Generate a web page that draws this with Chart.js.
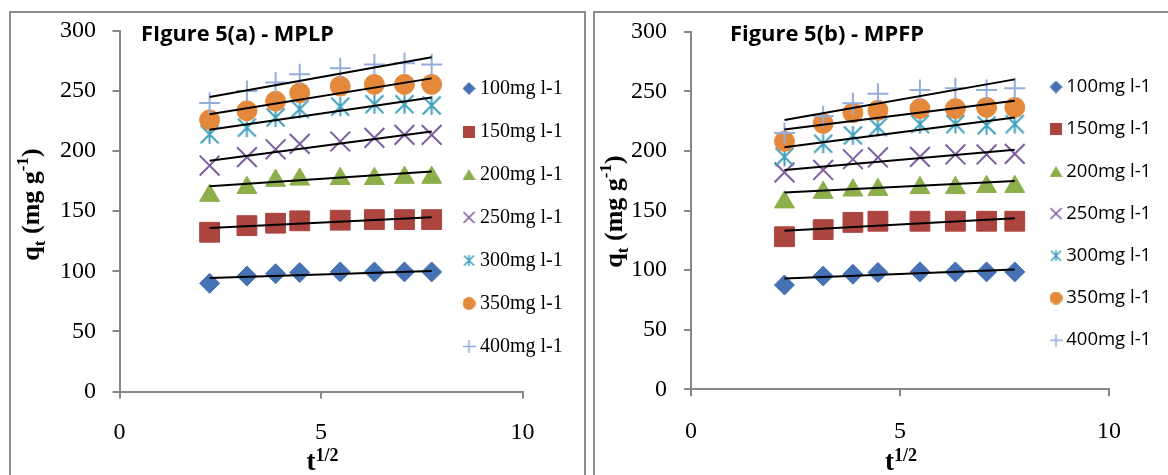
<!DOCTYPE html>
<html><head><meta charset="utf-8">
<script src="https://cdn.jsdelivr.net/npm/chart.js@4.4.1/dist/chart.umd.min.js"></script>
<style>
html,body{margin:0;padding:0;background:#fff;width:1168px;height:475px;overflow:hidden;position:relative}
.frame{position:absolute;border:2px solid #8c8c8c;box-sizing:border-box}
canvas{position:absolute;top:0}
</style></head><body>
<div class="frame" style="left:9px;top:11px;width:577px;height:520px"></div>
<div class="frame" style="left:593px;top:11px;width:600px;height:520px"></div>
<canvas id="c1" width="590" height="475" style="left:0"></canvas>
<canvas id="c2" width="578" height="475" style="left:590px"></canvas>
<script>
// ---------- data ----------
const sqrtTime = [2.236, 3.162, 3.873, 4.472, 5.477, 6.325, 7.071, 7.746];
const fitX = [2.236, 7.746];
const concLabels = ['100mg l-1', '150mg l-1', '200mg l-1', '250mg l-1', '300mg l-1', '350mg l-1', '400mg l-1'];
const xTickValues = [0, 5, 10];
const yTickValues = [0, 50, 100, 150, 200, 250, 300];

// Figure 5(a) - MPLP
const a100 = [90, 96, 98, 99, 99.5, 99.5, 99.5, 99.5];
const a150 = [132.5, 138, 140, 142, 142.5, 143, 143, 143];
const a200 = [163, 169.5, 175.5, 176.5, 177, 177, 178, 178];
const a250 = [188, 195, 201.5, 206, 208, 211, 213.5, 213.5];
const a300 = [214, 219.5, 228, 235, 237, 239, 239, 238];
const a350 = [226, 233.5, 241.5, 248.5, 254, 255.5, 255.5, 255.5];
const a400 = [240, 250, 257, 264, 269, 272, 273, 272];
const aFit100 = [94.5, 100.2];
const aFit150 = [136, 145];
const aFit200 = [170.7, 183];
const aFit250 = [192, 216.3];
const aFit300 = [217.7, 244.5];
const aFit350 = [230.7, 260.5];
const aFit400 = [245, 278];

// Figure 5(b) - MPFP
const b100 = [87.5, 95, 96.5, 98, 98.5, 98.5, 98.5, 98.5];
const b150 = [128, 134, 140, 141, 141, 141, 141, 141];
const b200 = [157, 165, 167, 167.5, 169, 169, 170, 170];
const b250 = [182, 184, 193, 194.5, 195, 197, 197, 197.5];
const b300 = [195, 206, 213, 220, 222.5, 222.5, 221.5, 222.5];
const b350 = [208, 223, 232, 234, 235.5, 235.5, 236.5, 236.5];
const b400 = [215, 229, 240, 248, 251, 252.5, 251, 252.5];
const bFit100 = [93, 100.5];
const bFit150 = [133, 143.5];
const bFit200 = [165, 174.7];
const bFit250 = [184, 201];
const bFit300 = [203, 228];
const bFit350 = [218, 242];
const bFit400 = [226, 260];

// ---------- styles ----------
const colors = ['#4672B4', '#AC4440', '#8CAF4B', '#7E5EA0', '#41A0BD', '#E4893C', '#93AEDB'];
function makeMarker(kind, size, color, lw) {
  const c = document.createElement('canvas');
  c.width = size; c.height = size;
  const g = c.getContext('2d');
  const m = size / 2, d = size / 2 - 1;
  g.fillStyle = color; g.strokeStyle = color; g.lineWidth = lw;
  g.beginPath();
  if (kind === 'diamond') {
    g.moveTo(m, 0); g.lineTo(size, m); g.lineTo(m, size); g.lineTo(0, m); g.closePath(); g.fill();
  } else if (kind === 'square') {
    g.fillRect(0, 0, size, size);
  } else if (kind === 'triangle') {
    g.moveTo(m, 1); g.lineTo(size, size - 1); g.lineTo(0, size - 1); g.closePath(); g.fill();
  } else if (kind === 'circle') {
    g.arc(m, m, m, 0, Math.PI * 2); g.fill();
  } else if (kind === 'x') {
    g.moveTo(m - d, m - d); g.lineTo(m + d, m + d);
    g.moveTo(m + d, m - d); g.lineTo(m - d, m + d); g.stroke();
  } else if (kind === 'plus') {
    g.moveTo(m, 0); g.lineTo(m, size); g.moveTo(0, m); g.lineTo(size, m); g.stroke();
  } else if (kind === 'asterisk') {
    const e = size / 2 - 1.5;
    g.moveTo(m, m - e - 0.5); g.lineTo(m, m + e + 0.5);
    g.moveTo(m - e, m - e); g.lineTo(m + e, m + e);
    g.moveTo(m + e, m - e); g.lineTo(m - e, m + e); g.stroke();
  }
  return c;
}
const bigAst = makeMarker('asterisk', 21, colors[4], 2);
const legendMarks = [
  makeMarker('diamond', 13, colors[0], 1),
  makeMarker('square', 12, colors[1], 1),
  makeMarker('triangle', 13, colors[2], 1),
  makeMarker('x', 13, colors[3], 1.6),
  makeMarker('asterisk', 13, colors[4], 1.6),
  makeMarker('circle', 13, colors[5], 1),
  makeMarker('plus', 13, colors[6], 1.6)
];
const pStyles = ['rectRot', 'rect', 'triangle', 'crossRot', bigAst, 'circle', 'cross'];
const pRadius = [10, 14, 11.5, 14, 10, 10, 10.5];
const pBorder = [1, 1, 1, 2, 2, 1, 2];

function pts(ys) { return sqrtTime.map((x, i) => ({x: x, y: ys[i]})); }
function fitPts(ys) { return fitX.map((x, i) => ({x: x, y: ys[i]})); }

function buildDatasets(series, fits) {
  const ds = series.map((ys, i) => ({
    label: concLabels[i],
    data: pts(ys),
    pointStyle: pStyles[i],
    pointRadius: pRadius[i],
    pointBorderWidth: pBorder[i],
    borderWidth: pBorder[i],
    backgroundColor: colors[i],
    borderColor: colors[i],
    showLine: false,
    order: 10 - i
  }));
  fits.forEach((ys, i) => ds.push({
    label: 'fit ' + concLabels[i],
    data: fitPts(ys),
    showLine: true,
    pointRadius: 0,
    borderColor: '#000',
    backgroundColor: '#000',
    borderWidth: 2,
    order: 0
  }));
  return ds;
}

function drawRich(ctx, parts, x, y) {
  let total = 0;
  parts.forEach(p => { ctx.font = p[1]; p.w = ctx.measureText(p[0]).width; total += p.w; });
  let cx = x - total / 2;
  parts.forEach(p => { ctx.font = p[1]; ctx.fillText(p[0], cx, y + p[2]); cx += p.w; });
}

const decor = {
  id: 'decor',
  beforeDraw(chart, args, o) {
    const lg = chart.legend;
    if (!lg) return;
    const left = o.legendX - 1 - o.legendPad;
    const top = o.legendY - o.legendPad - o.legendFont / 2;
    const w = lg.width;
    lg.left = left; lg.right = left + w;
    lg.top = top; lg.bottom = top + 2000; lg.height = 2000;
  },
  afterDraw(chart, args, o) {
    const ctx = chart.ctx;
    ctx.save();
    ctx.fillStyle = '#000';
    ctx.textBaseline = 'alphabetic';
    ctx.textAlign = 'left';
    // panel title
    ctx.font = 'bold 20.5px "Open Sans"';
    const tw = ctx.measureText(o.title).width;
    ctx.save();
    ctx.translate(o.titleX, o.titleY);
    ctx.scale(o.titleW / tw, 1);
    ctx.fillText(o.title, 0, 0);
    ctx.restore();
    // x axis title
    drawRich(ctx, [
      ['t', 'bold 27px "Liberation Serif"', 0],
      ['1/2', 'bold 18px "Liberation Serif"', -9]
    ], o.xTitleX, o.xTitleY);
    // y axis title
    ctx.save();
    ctx.translate(o.yTitleX, o.yTitleY);
    ctx.rotate(-Math.PI / 2);
    drawRich(ctx, [
      ['q', 'bold 26px "Liberation Serif"', 0],
      ['t', 'bold 17px "Liberation Serif"', 6],
      [' (mg g', 'bold 26px "Liberation Serif"', 0],
      ['-1', 'bold 17px "Liberation Serif"', -11],
      [')', 'bold 26px "Liberation Serif"', 0]
    ], 0, 0);
    ctx.restore();
    ctx.restore();
  }
};

function makeChart(id, series, fits, P) {
  const tickFont = {family: 'Liberation Serif', size: 24};
  const axisCol = '#878787';
  return new Chart(document.getElementById(id), {
    type: 'scatter',
    data: {datasets: buildDatasets(series, fits)},
    options: {
      responsive: false,
      animation: false,
      devicePixelRatio: 1,
      events: [],
      layout: {padding: {left: 0, top: P.top, right: P.right, bottom: 0}},
      scales: {
        x: {
          type: 'linear', min: 0, max: 10,
          afterFit: s => { s.height = P.xAxisH; },
          afterBuildTicks: s => { s.ticks = xTickValues.map(v => ({value: v})); },
          ticks: {font: tickFont, color: '#000', padding: P.xPad, maxRotation: 0, autoSkip: false},
          grid: {display: true, drawOnChartArea: false, drawTicks: true, tickLength: 7, color: axisCol, lineWidth: 2},
          border: {display: true, color: axisCol, width: 2}
        },
        y: {
          type: 'linear', min: 0, max: 300,
          afterFit: s => { s.width = P.yAxisW; },
          afterBuildTicks: s => { s.ticks = yTickValues.map(v => ({value: v})); },
          ticks: {font: tickFont, color: '#000', padding: P.yPad, autoSkip: false},
          grid: {display: true, drawOnChartArea: false, drawTicks: true, tickLength: 7, color: axisCol, lineWidth: 2},
          border: {display: true, color: axisCol, width: 2}
        }
      },
      plugins: {
        tooltip: {enabled: false},
        legend: {
          display: true,
          position: 'chartArea',
          align: 'start',
          labels: {
            usePointStyle: true,
            boxWidth: 2,
            boxHeight: 10,
            padding: P.legendPad,
            color: '#000',
            font: {family: P.legendFamily, size: P.legendFont},
            filter: item => item.datasetIndex < 7,
            sort: (a, b) => a.datasetIndex - b.datasetIndex,
            generateLabels: chart => {
              const items = Chart.defaults.plugins.legend.labels.generateLabels(chart);
              items.forEach(it => { if (it.datasetIndex < 7) it.pointStyle = legendMarks[it.datasetIndex]; });
              return items;
            }
          }
        },
        decor: {
          title: P.title, titleX: P.titleX, titleY: P.titleY, titleW: P.titleW,
          xTitleX: P.xTitleX, xTitleY: 470,
          yTitleX: P.yTitleX, yTitleY: P.yTitleY,
          legendX: P.legendX, legendY: P.legendY, legendPad: P.legendPad, legendFont: P.legendFont
        }
      }
    },
    plugins: [decor]
  });
}

makeChart('c1', [a100, a150, a200, a250, a300, a350, a400],
  [aFit100, aFit150, aFit200, aFit250, aFit300, aFit350, aFit400], {
    top: 29.5, right: 67.5, xAxisH: 83.5, yAxisW: 119.5, xPad: 20, yPad: 16.5,
    title: 'FIgure 5(a) - MPLP', titleX: 141, titleY: 40.7, titleW: 193,
    xTitleX: 322.5, yTitleX: 39, yTitleY: 204.5,
    legendX: 469, legendY: 88.5, legendPad: 23, legendFont: 20, legendFamily: 'Liberation Serif'
  });

makeChart('c2', [b100, b150, b200, b250, b300, b350, b400],
  [bFit100, bFit150, bFit200, bFit250, bFit300, bFit350, bFit400], {
    top: 31.7, right: 59, xAxisH: 85.7, yAxisW: 101, xPad: 21, yPad: 17,
    title: 'Figure 5(b) - MPFP', titleX: 140, titleY: 40.7, titleW: 194,
    xTitleX: 311, yTitleX: 32, yTitleY: 211.5,
    legendX: 466, legendY: 87, legendPad: 23.7, legendFont: 18.5, legendFamily: 'Open Sans'
  });
</script>
</body></html>
